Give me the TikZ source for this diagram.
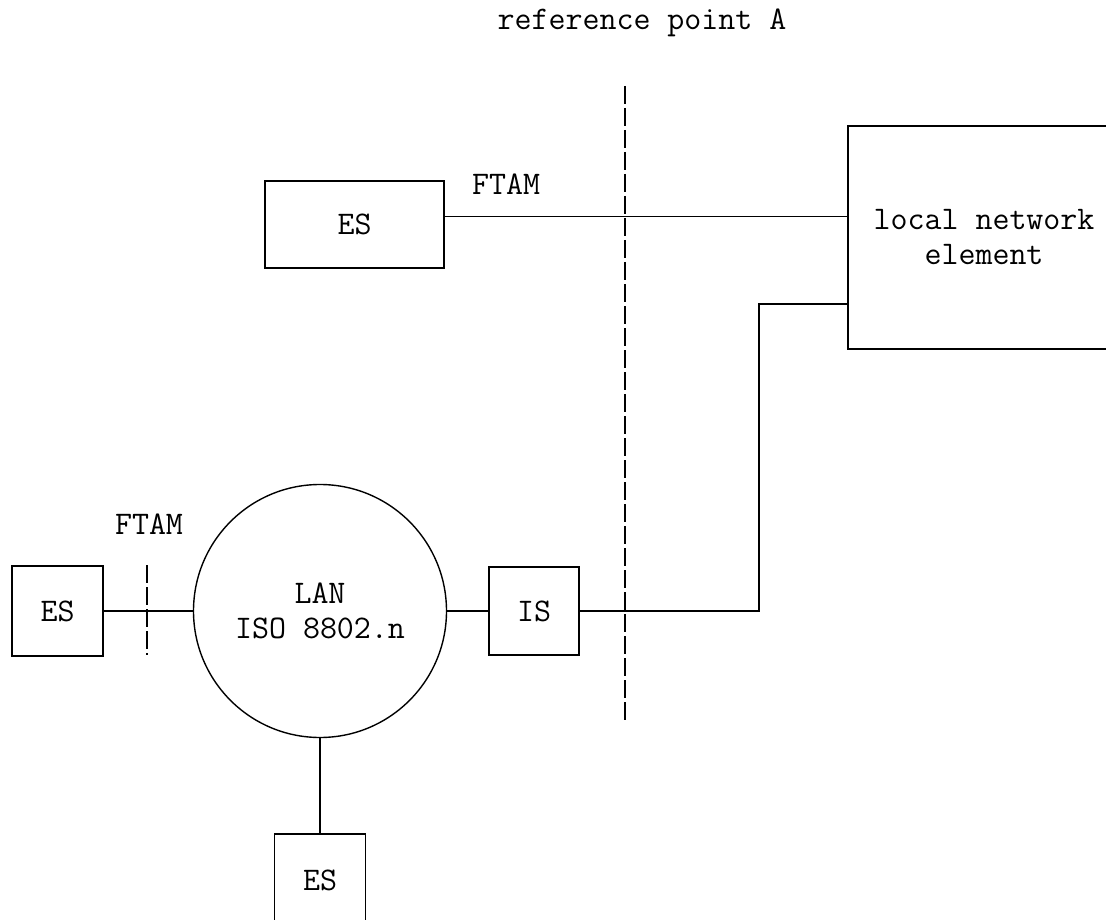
\documentclass[tikz,border=0pt]{standalone}
\usepackage{fontspec}
\usepackage{tikz}
\usetikzlibrary{positioning, calc}
\newcommand{\figfont}{\ttfamily\fontsize{33}{35}\selectfont}

\tikzset{
  netbox/.style={draw, line width=1.4pt, inner sep=0pt, font=\figfont},
  lanring/.style={draw, circle, line width=1.4pt, inner sep=0pt,
                  font=\figfont, align=center},
  link/.style={line width=1.4pt},
  refline/.style={line width=1.4pt, dash pattern=on 18pt off 4pt},
  lbl/.style={font=\figfont, inner sep=0pt, anchor=base}
}

\begin{document}
\begin{tikzpicture}[x=1pt, y=-1pt]
  \useasboundingbox (0,0) rectangle (1106,920);

  % reference point A
  \node[lbl] (refA) at (642,30) {reference point A};
  \coordinate (refTop) at (625,86);
  \coordinate (refBot) at (625,721);
  \draw[refline] (refTop) -- (refBot);

  % upper branch
  \node[netbox, minimum width=179pt, minimum height=87pt]
    (esTop) at (354.5,224.5) {ES};
  \node[netbox, minimum width=272pt, minimum height=223pt, align=center]
    (lne) at (984,237.5) {local network\\element};
  \node[lbl] (ftamTop) at (506,195) {FTAM};
  \draw[link] ([yshift=8pt]esTop.east) -- ([yshift=8pt]esTop.east -| lne.west);

  % LAN and its stations
  \node[lanring, minimum size=253pt] (lan) at (320,611) {LAN\\ISO 8802.n};
  \node[netbox, minimum width=91pt, minimum height=90pt]
    (esLeft) at (57.5,611) {ES};
  \node[netbox, minimum width=90pt, minimum height=88pt]
    (isBox) at (534,611) {IS};
  \node[netbox, minimum width=91pt, minimum height=92pt]
    (esBot) at (320,880) {ES};
  \node[lbl] (ftamLeft) at (149,534) {FTAM};
  \coordinate (cutTop) at (147,565);
  \coordinate (cutBot) at (147,655);
  \coordinate (bend) at (759,304);

  \draw[link] (esLeft.east) -- (lan.west);
  \draw[refline] (cutTop) -- (cutBot);
  \draw[link] (lan.east) -- (isBox.west);
  \draw[link] (lan.south) -- (esBot.north);
  \draw[link] (isBox.east) -| (bend) -- (bend -| lne.west);
\end{tikzpicture}
\end{document}
